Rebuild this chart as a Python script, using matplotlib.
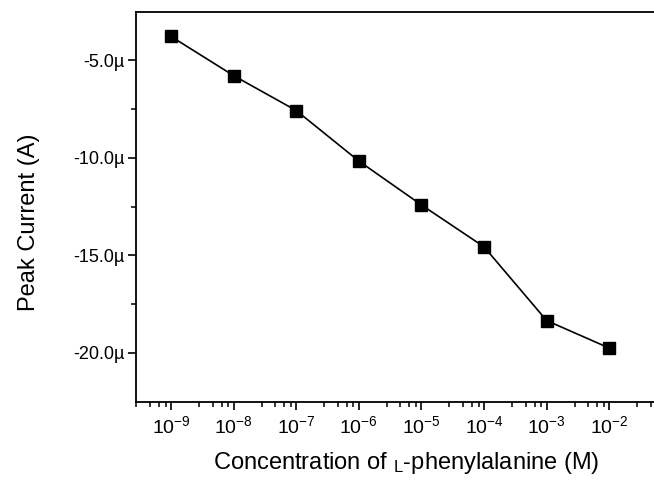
import math
import matplotlib
matplotlib.use("Agg")
import matplotlib.pyplot as plt
from matplotlib.ticker import LogLocator, FixedLocator, FuncFormatter, NullFormatter

plt.rcParams['font.family'] = ['Liberation Sans', 'DejaVu Sans']
plt.rcParams['mathtext.default'] = 'regular'
plt.rcParams['axes.unicode_minus'] = False

concentrations = [1e-9, 1e-8, 1e-7, 1e-6, 1e-5, 1e-4, 1e-3, 1e-2]
peak_current_uA = [-3.77, -5.78, -7.57, -10.16, -12.41, -14.56, -18.34, -19.75]
peak_current = [v * 1e-6 for v in peak_current_uA]
y_major_uA = [-20, -15, -10, -5]
y_minor_uA = [-17.5, -12.5, -7.5]

decade_px = 62.6
x_lo, x_hi = -9.56, -0.93
fig = plt.figure(figsize=(6.54, 4.84), dpi=100)
ax = fig.add_axes([136 / 654, 82.3 / 484, (x_hi - x_lo) * decade_px / 654, 390 / 484])

ax.plot(concentrations, peak_current, color='black', linewidth=1.2,
        marker='s', markersize=8.5, markerfacecolor='black', markeredgecolor='black')

ax.set_xscale('log')
ax.set_xlim(10 ** x_lo, 10 ** x_hi)
ax.set_ylim(-22.5e-6, -2.5e-6)

ax.xaxis.set_major_locator(FixedLocator(concentrations))
ax.xaxis.set_minor_locator(LogLocator(base=10, subs=(2.8, 4.6, 6.4, 8.2), numticks=20))
ax.xaxis.set_minor_formatter(NullFormatter())
ax.xaxis.set_major_formatter(FuncFormatter(lambda v, p: r"$10^{%d}$" % round(math.log10(v))))

ax.yaxis.set_major_locator(FixedLocator([v * 1e-6 for v in y_major_uA]))
ax.yaxis.set_minor_locator(FixedLocator([v * 1e-6 for v in y_minor_uA]))
ax.yaxis.set_major_formatter(FuncFormatter(lambda v, p: f"{v * 1e6:.1f}\u00b5"))

for s in ['left', 'bottom', 'top']:
    ax.spines[s].set_linewidth(1.3)
ax.spines['right'].set_visible(False)

ax.tick_params(axis='both', which='major', direction='out', length=6, width=1.2,
               top=False, right=False)
ax.tick_params(axis='y', which='major', labelsize=13, pad=2)
ax.tick_params(axis='x', which='major', labelsize=14, pad=4)
ax.tick_params(axis='both', which='minor', direction='out', length=3.5, width=1.1,
               top=False, right=False)

ax.set_xlabel(r"Concentration of $_{L}$-phenylalanine (M)", fontsize=17, labelpad=9)
ax.set_ylabel("Peak Current (A)", fontsize=17, labelpad=24)
ax.yaxis.label.set_y(0.46)

fig.savefig("out.png", dpi=100)
